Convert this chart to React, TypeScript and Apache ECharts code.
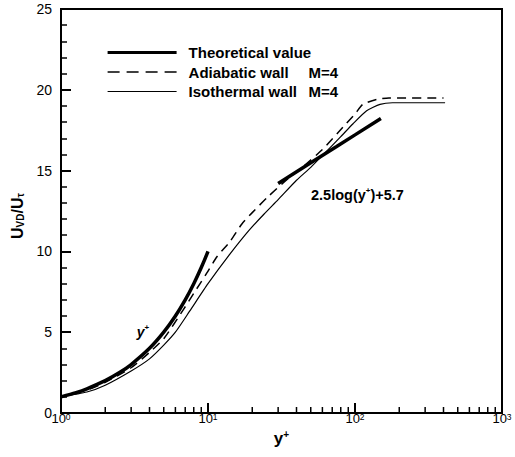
import { useEffect, useRef } from "react";
import * as echarts from "echarts";

// Theoretical value: viscous sublayer u+ = y+ and log law 2.5log(y+)+5.7
const theoryViscousYPlus = [1, 1.25, 1.5, 2, 2.5, 3, 4, 5, 6, 7, 8, 9, 10];
const theoryViscousU = [1, 1.25, 1.5, 2, 2.5, 3, 4, 5, 6, 7, 8, 9, 10];
const theoryLogYPlus = [30, 50, 75, 100, 150];
const theoryLogU = [14.2, 15.48, 16.49, 17.21, 18.23];

// Adiabatic wall M=4 (dashed)
const adiabaticYPlus = [1, 1.5, 2, 3, 4, 5, 6.8, 8, 9.8, 11.5, 14.1, 17, 20, 25.7, 35, 45, 60, 83, 100, 113, 140, 170, 400];
const adiabaticU = [1, 1.42, 1.9, 2.8, 3.75, 4.6, 6.4, 7.4, 8.65, 9.67, 10.6, 11.7, 12.4, 13.4, 14.5, 15.3, 16.3, 17.7, 18.5, 19.1, 19.4, 19.5, 19.5];

// Isothermal wall M=4 (thin solid)
const isothermalYPlus = [1, 1.5, 2, 3, 4, 5, 6, 7.5, 10, 14, 19, 24, 30, 40, 50, 61, 80, 97, 120, 148, 180, 410];
const isothermalU = [1, 1.3, 1.72, 2.6, 3.35, 4.2, 5.0, 6.3, 8.0, 9.8, 11.3, 12.3, 13.2, 14.4, 15.2, 16.0, 17.1, 17.9, 18.7, 19.1, 19.2, 19.2];

// x-axis minor tick positions (log axis)
const xMinorTicks = [2, 3, 4, 5, 6, 7, 8, 9, 20, 30, 40, 50, 60, 70, 80, 90, 200, 300, 400, 500, 600, 700, 800, 900];

const seriesNames = ["Theoretical value", "Adiabatic wall    M=4", "Isothermal wall  M=4"];

const FONT = "'Liberation Sans', Arial, Helvetica, sans-serif";

const zip = (xs: number[], ys: number[]) => xs.map((x, i) => [x, ys[i]]);

export default function App() {
  const ref = useRef<HTMLDivElement>(null);
  useEffect(() => {
    if (!ref.current) return;
    const chart = echarts.init(ref.current, null, { renderer: "svg" });
    const option: any = {
      animation: false,
      textStyle: { fontFamily: FONT, color: "#000" },
      grid: {
        left: 61,
        right: 13,
        top: 9,
        bottom: 44,
        show: true,
        borderColor: "#000",
        borderWidth: 2,
        backgroundColor: "transparent",
        outerBoundsMode: "none",
      },
      legend: {
        orient: "vertical",
        left: 106,
        top: 45,
        padding: 0,
        itemWidth: 69,
        itemHeight: 14,
        itemGap: 4.5,
        selectedMode: false,
        itemStyle: { opacity: 0, borderWidth: 0 },
        textStyle: {
          fontFamily: FONT,
          fontSize: 15,
          fontWeight: "bold",
          color: "#000",
          padding: [0, 0, 0, 7],
          rich: {
            lbl: { width: 120, fontFamily: FONT, fontSize: 15, fontWeight: "bold", color: "#000" },
            m: { fontFamily: FONT, fontSize: 15, fontWeight: "bold", color: "#000" },
          },
        },
        formatter: (name: string) => {
          if (name === seriesNames[1]) return "{lbl|Adiabatic wall}{m|M=4}";
          if (name === seriesNames[2]) return "{lbl|Isothermal wall}{m|M=4}";
          return name;
        },
        data: [
          { name: seriesNames[0], lineStyle: { width: 3.2, color: "#000" }, itemStyle: { opacity: 0 } },
          { name: seriesNames[1], lineStyle: { width: 1.5, color: "#000", type: [12, 7] }, itemStyle: { opacity: 0 } },
          { name: seriesNames[2], lineStyle: { width: 1.2, color: "#000" }, itemStyle: { opacity: 0 } },
        ],
      },
      xAxis: {
        type: "log",
        logBase: 10,
        min: 1,
        max: 1000,
        name: "y{sup|+}",
        nameLocation: "middle",
        nameGap: 14,
        nameTextStyle: {
          fontFamily: FONT,
          fontSize: 17,
          fontWeight: "bold",
          color: "#000",
          verticalAlign: "top",
          rich: {
            sup: { fontSize: 10, fontWeight: "bold", verticalAlign: "top", lineHeight: 10, color: "#000", fontFamily: FONT },
          },
        },
        axisLine: { show: true, onZero: false, lineStyle: { color: "#000", width: 2 } },
        axisTick: { show: true, inside: true, length: 10, lineStyle: { color: "#000", width: 2 } },
        minorTick: { show: false },
        splitLine: { show: false },
        axisLabel: {
          margin: -1,
          color: "#000",
          formatter: (v: number) => `{b|10}{sup|${Math.round(Math.log10(v))}}`,
          rich: {
            b: { fontFamily: FONT, fontSize: 13, lineHeight: 13, verticalAlign: "bottom", padding: [3, 0, 0, 0], color: "#000" },
            sup: { fontFamily: FONT, fontSize: 8.5, lineHeight: 9, verticalAlign: "top", color: "#000" },
          },
        },
      },
      yAxis: {
        type: "value",
        min: 0,
        max: 25,
        interval: 5,
        name: "{b|U}{sub|VD}{b|/U}{sub|τ}",
        nameLocation: "middle",
        nameRotate: 90,
        nameGap: 33,
        nameTextStyle: {
          color: "#000",
          padding: [0, 10, 0, 0],
          rich: {
            b: { fontFamily: FONT, fontSize: 16, fontWeight: "bold", lineHeight: 16, verticalAlign: "top", color: "#000" },
            sub: { fontFamily: FONT, fontSize: 10, fontWeight: "bold", lineHeight: 10, verticalAlign: "bottom", padding: [9, 0, 0, 0], color: "#000" },
          },
        },
        axisLine: { show: true, lineStyle: { color: "#000", width: 2 } },
        axisTick: { show: true, inside: true, length: 10, lineStyle: { color: "#000", width: 2 } },
        minorTick: { show: true, splitNumber: 5, length: 6, lineStyle: { color: "#000", width: 1.5 } },
        splitLine: { show: false },
        axisLabel: { margin: 9, fontSize: 14, color: "#000", fontFamily: FONT },
      },
      graphic: [
        {
          type: "text",
          x: 143,
          y: 331,
          style: {
            text: "{y|y}{s|+}",
            align: "center",
            verticalAlign: "middle",
            rich: {
              y: { fontFamily: FONT, fontSize: 14, fontWeight: "bold", fontStyle: "italic", fill: "#000", lineHeight: 16, verticalAlign: "bottom" },
              s: { fontFamily: FONT, fontSize: 8, fontWeight: "bold", fill: "#000", lineHeight: 8, verticalAlign: "top" },
            },
          },
        },
        {
          type: "text",
          x: 311,
          y: 194,
          style: {
            text: "{a|2.5log(y}{s|+}{a|)+5.7}",
            align: "left",
            verticalAlign: "middle",
            rich: {
              a: { fontFamily: FONT, fontSize: 14.5, fontWeight: "bold", fill: "#000", lineHeight: 16, verticalAlign: "bottom" },
              s: { fontFamily: FONT, fontSize: 8, fontWeight: "bold", fill: "#000", lineHeight: 8, verticalAlign: "top" },
            },
          },
        },
      ],
      series: [
        {
          name: seriesNames[0],
          type: "line",
          data: zip(theoryViscousYPlus, theoryViscousU),
          symbol: "none",
          smooth: 0.2,
          lineStyle: { color: "#000", width: 3.5 },
          itemStyle: { color: "#000" },
          z: 4,
        },
        {
          name: seriesNames[0],
          type: "line",
          data: zip(theoryLogYPlus, theoryLogU),
          symbol: "none",
          lineStyle: { color: "#000", width: 3.5 },
          itemStyle: { color: "#000" },
          z: 4,
        },
        {
          name: seriesNames[1],
          type: "line",
          data: zip(adiabaticYPlus, adiabaticU),
          symbol: "none",
          smooth: 0.2,
          lineStyle: { color: "#000", width: 1.5, type: [9, 6] },
          itemStyle: { color: "#000" },
          z: 3,
        },
        {
          name: seriesNames[2],
          type: "line",
          data: zip(isothermalYPlus, isothermalU),
          symbol: "none",
          smooth: 0.2,
          lineStyle: { color: "#000", width: 1.2 },
          itemStyle: { color: "#000" },
          z: 3,
        },
        {
          name: "xMinorTicks",
          type: "custom",
          silent: true,
          clip: false,
          data: xMinorTicks.map((v) => [v, 0]),
          encode: { x: 0, y: 1 },
          renderItem: (_params: any, api: any) => {
            const p = api.coord([api.value(0), 0]);
            return {
              type: "line",
              shape: { x1: p[0], y1: p[1], x2: p[0], y2: p[1] - 6 },
              style: { stroke: "#000", lineWidth: 1.5 },
            };
          },
          z: 5,
        },
      ],
    };
    chart.setOption(option);
    return () => chart.dispose();
  }, []);
  return <div ref={ref} style={{ width: 515, height: 457, position: "absolute", left: 0, top: 0, background: "#fff" }} />;
}
